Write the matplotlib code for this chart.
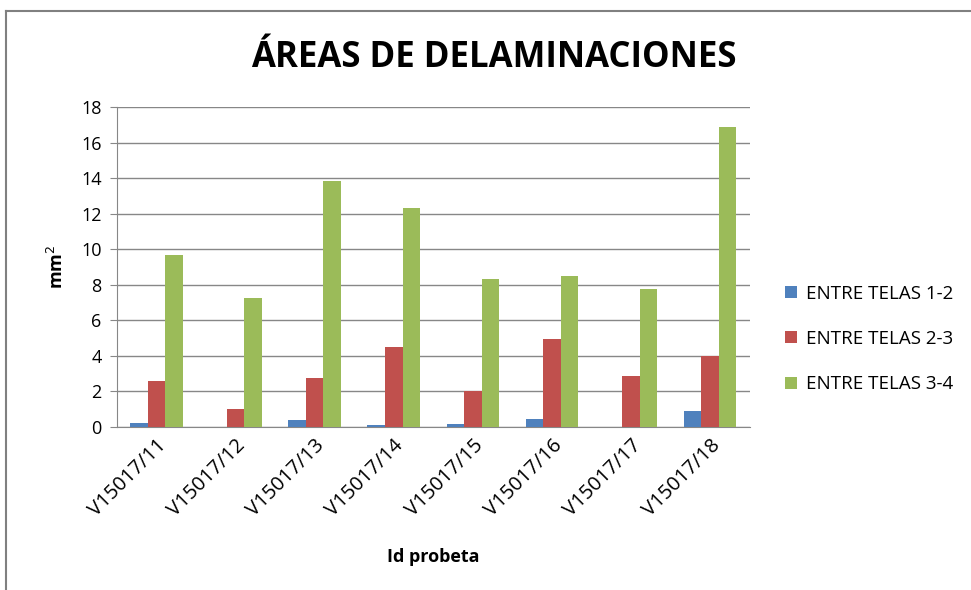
import matplotlib.pyplot as plt
import numpy as np
from matplotlib.lines import Line2D

# data
probetas = ['V15017/11', 'V15017/12', 'V15017/13', 'V15017/14',
            'V15017/15', 'V15017/16', 'V15017/17', 'V15017/18']
telas_12 = [0.24, 0.0, 0.39, 0.13, 0.19, 0.47, 0.0, 0.9]
telas_23 = [2.57, 1.01, 2.78, 4.5, 2.0, 4.97, 2.89, 4.02]
telas_34 = [9.67, 7.27, 13.84, 12.34, 8.34, 8.48, 7.75, 16.9]
series_names = ['ENTRE TELAS 1-2', 'ENTRE TELAS 2-3', 'ENTRE TELAS 3-4']
colors = ['#4F81BD', '#C0504D', '#9BBB59']

plt.rcParams['font.family'] = ['Open Sans', 'DejaVu Sans']

fig = plt.figure(figsize=(9.71, 5.9), dpi=100)
ax = fig.add_axes([0.1205, 0.2763, 0.6515, 0.5423])

x = np.arange(len(probetas))
w = 0.222
for i, (vals, name) in enumerate(zip([telas_12, telas_23, telas_34], series_names)):
    ax.bar(x + (i - 1) * w, vals, width=w, color=colors[i], label=name, zorder=3)

ax.set_xlim(-0.5, len(probetas) - 0.5)
ax.set_ylim(0, 18)
ax.set_yticks(range(0, 19, 2))
ax.yaxis.grid(True, color='#878787', linewidth=1, zorder=0)
ax.tick_params(axis='y', length=5, color='#878787', labelsize=13, pad=6)
ax.tick_params(axis='x', length=0, labelsize=14.5, pad=6)
ax.set_xticks(x)
ax.set_xticklabels(probetas, rotation=45, ha='right', rotation_mode='anchor')
for s in ['top', 'right']:
    ax.spines[s].set_visible(False)
for s in ['left', 'bottom']:
    ax.spines[s].set_color('#878787')

ax.set_ylabel('mm$^2$', fontsize=13, fontweight='bold', labelpad=10)
ax.set_xlabel('Id probeta', fontsize=13, fontweight='bold', labelpad=20)
fig.text(0.509, 0.902, 'ÁREAS DE DELAMINACIONES', ha='center', va='center',
         fontsize=25, fontweight='bold')

leg = ax.legend(loc='center left', bbox_to_anchor=(1.03, 0.275), frameon=False,
                fontsize=13.5, handlelength=0.6, handleheight=0.6,
                labelspacing=1.45, handletextpad=0.5)

# chart frame
fig.add_artist(Line2D([0.006, 1.0], [0.982, 0.982], transform=fig.transFigure,
                      color='#808080', linewidth=1.5))
fig.add_artist(Line2D([0.006, 0.006], [0.0, 0.982], transform=fig.transFigure,
                      color='#808080', linewidth=1.5))

fig.savefig('out.png', dpi=100)
